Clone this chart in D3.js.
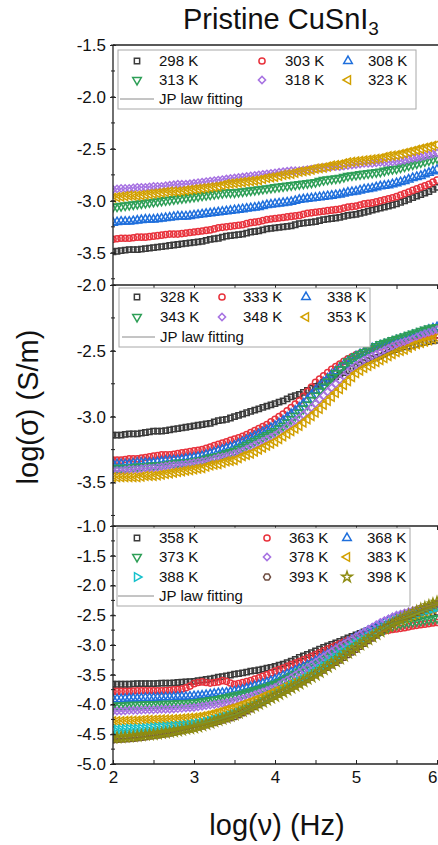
<!DOCTYPE html>
<html>
<head>
<meta charset="utf-8">
<script src="https://cdn.jsdelivr.net/npm/d3@7"></script>
<style>
  body { margin: 0; background: #fff; }
  svg { display: block; font-family: "Liberation Sans", Arial, sans-serif; }
</style>
</head>
<body>
<div id="chart"></div>
<script>
// log(frequency) grid shared by every curve
var logNu = [2.00,2.05,2.10,2.15,2.20,2.25,2.30,2.35,2.40,2.45,
             2.50,2.55,2.60,2.65,2.70,2.75,2.80,2.85,2.90,2.95,
             3.00,3.05,3.10,3.15,3.20,3.25,3.30,3.35,3.40,3.45,
             3.50,3.55,3.60,3.65,3.70,3.75,3.80,3.85,3.90,3.95,
             4.00,4.05,4.10,4.15,4.20,4.25,4.30,4.35,4.40,4.45,
             4.50,4.55,4.60,4.65,4.70,4.75,4.80,4.85,4.90,4.95,
             5.00,5.05,5.10,5.15,5.20,5.25,5.30,5.35,5.40,5.45,
             5.50,5.55,5.60,5.65,5.70,5.75,5.80,5.85,5.90,5.95,
             6.00];

// top panel, 298 - 323 K
var s298 = [-3.49,-3.485,-3.48,-3.475,-3.47,-3.47,-3.47,-3.465,-3.46,-3.455,
            -3.45,-3.445,-3.44,-3.435,-3.43,-3.425,-3.42,-3.415,-3.41,-3.405,
            -3.40,-3.395,-3.39,-3.38,-3.37,-3.365,-3.36,-3.35,-3.34,-3.335,
            -3.33,-3.325,-3.32,-3.31,-3.30,-3.295,-3.29,-3.28,-3.27,-3.265,
            -3.26,-3.255,-3.25,-3.245,-3.24,-3.23,-3.22,-3.215,-3.21,-3.205,
            -3.20,-3.19,-3.18,-3.175,-3.17,-3.165,-3.16,-3.15,-3.14,-3.135,
            -3.13,-3.12,-3.11,-3.10,-3.09,-3.08,-3.07,-3.06,-3.05,-3.04,
            -3.03,-3.015,-3.00,-2.985,-2.97,-2.955,-2.94,-2.925,-2.91,-2.89,
            -2.87];
var s303 = [-3.37,-3.365,-3.36,-3.36,-3.36,-3.355,-3.35,-3.35,-3.35,-3.345,
            -3.34,-3.335,-3.33,-3.325,-3.32,-3.32,-3.32,-3.315,-3.31,-3.305,
            -3.30,-3.295,-3.29,-3.285,-3.28,-3.27,-3.26,-3.255,-3.25,-3.245,
            -3.24,-3.235,-3.23,-3.22,-3.21,-3.205,-3.20,-3.19,-3.18,-3.175,
            -3.17,-3.165,-3.16,-3.155,-3.15,-3.145,-3.14,-3.13,-3.12,-3.115,
            -3.11,-3.105,-3.10,-3.095,-3.09,-3.085,-3.08,-3.07,-3.06,-3.055,
            -3.05,-3.04,-3.03,-3.025,-3.02,-3.01,-3.00,-2.99,-2.98,-2.97,
            -2.96,-2.945,-2.93,-2.915,-2.90,-2.885,-2.87,-2.855,-2.84,-2.82,
            -2.80];
var s308 = [-3.21,-3.205,-3.20,-3.20,-3.20,-3.195,-3.19,-3.185,-3.18,-3.18,
            -3.18,-3.175,-3.17,-3.165,-3.16,-3.155,-3.15,-3.15,-3.15,-3.145,
            -3.14,-3.135,-3.13,-3.125,-3.12,-3.115,-3.11,-3.105,-3.10,-3.095,
            -3.09,-3.085,-3.08,-3.075,-3.07,-3.065,-3.06,-3.05,-3.04,-3.035,
            -3.03,-3.025,-3.02,-3.015,-3.01,-3.00,-2.99,-2.985,-2.98,-2.975,
            -2.97,-2.965,-2.96,-2.955,-2.95,-2.945,-2.94,-2.93,-2.92,-2.915,
            -2.91,-2.90,-2.89,-2.885,-2.88,-2.87,-2.86,-2.855,-2.85,-2.84,
            -2.83,-2.82,-2.81,-2.795,-2.78,-2.77,-2.76,-2.745,-2.73,-2.715,
            -2.70];
var s313 = [-3.06,-3.055,-3.05,-3.045,-3.04,-3.035,-3.03,-3.025,-3.02,-3.015,
            -3.01,-3.005,-3.00,-2.995,-2.99,-2.985,-2.98,-2.975,-2.97,-2.965,
            -2.96,-2.955,-2.95,-2.945,-2.94,-2.935,-2.93,-2.925,-2.92,-2.92,
            -2.92,-2.915,-2.91,-2.905,-2.90,-2.895,-2.89,-2.885,-2.88,-2.875,
            -2.87,-2.865,-2.86,-2.855,-2.85,-2.845,-2.84,-2.835,-2.83,-2.825,
            -2.82,-2.81,-2.80,-2.795,-2.79,-2.785,-2.78,-2.77,-2.76,-2.755,
            -2.75,-2.745,-2.74,-2.735,-2.73,-2.725,-2.72,-2.71,-2.70,-2.695,
            -2.69,-2.68,-2.67,-2.66,-2.65,-2.64,-2.63,-2.62,-2.61,-2.60,
            -2.59];
var s318 = [-2.89,-2.885,-2.88,-2.88,-2.88,-2.875,-2.87,-2.87,-2.87,-2.865,
            -2.86,-2.86,-2.86,-2.855,-2.85,-2.845,-2.84,-2.84,-2.84,-2.835,
            -2.83,-2.825,-2.82,-2.815,-2.81,-2.805,-2.80,-2.795,-2.79,-2.785,
            -2.78,-2.775,-2.77,-2.765,-2.76,-2.755,-2.75,-2.745,-2.74,-2.735,
            -2.73,-2.725,-2.72,-2.715,-2.71,-2.71,-2.71,-2.705,-2.70,-2.695,
            -2.69,-2.685,-2.68,-2.675,-2.67,-2.67,-2.67,-2.665,-2.66,-2.655,
            -2.65,-2.645,-2.64,-2.64,-2.64,-2.635,-2.63,-2.63,-2.63,-2.625,
            -2.62,-2.615,-2.61,-2.60,-2.59,-2.585,-2.58,-2.57,-2.56,-2.55,
            -2.54];
var s323 = [-2.97,-2.965,-2.96,-2.955,-2.95,-2.95,-2.95,-2.945,-2.94,-2.935,
            -2.93,-2.925,-2.92,-2.915,-2.91,-2.91,-2.91,-2.905,-2.90,-2.895,
            -2.89,-2.885,-2.88,-2.875,-2.87,-2.865,-2.86,-2.85,-2.84,-2.835,
            -2.83,-2.825,-2.82,-2.815,-2.81,-2.805,-2.80,-2.79,-2.78,-2.775,
            -2.77,-2.76,-2.75,-2.745,-2.74,-2.73,-2.72,-2.715,-2.71,-2.70,
            -2.69,-2.685,-2.68,-2.67,-2.66,-2.655,-2.65,-2.64,-2.63,-2.625,
            -2.62,-2.615,-2.61,-2.605,-2.60,-2.595,-2.59,-2.58,-2.57,-2.565,
            -2.56,-2.55,-2.54,-2.53,-2.52,-2.51,-2.50,-2.49,-2.48,-2.47,
            -2.46];

// middle panel, 328 - 353 K
var s328 = [-3.14,-3.14,-3.14,-3.135,-3.13,-3.13,-3.13,-3.125,-3.12,-3.115,
            -3.11,-3.11,-3.11,-3.105,-3.10,-3.095,-3.09,-3.085,-3.08,-3.075,
            -3.07,-3.065,-3.06,-3.055,-3.05,-3.04,-3.03,-3.025,-3.02,-3.01,
            -3.00,-2.99,-2.98,-2.97,-2.96,-2.95,-2.94,-2.93,-2.92,-2.91,
            -2.90,-2.89,-2.88,-2.865,-2.85,-2.84,-2.83,-2.815,-2.80,-2.785,
            -2.77,-2.755,-2.74,-2.725,-2.71,-2.695,-2.68,-2.665,-2.65,-2.635,
            -2.62,-2.605,-2.59,-2.575,-2.56,-2.55,-2.54,-2.525,-2.51,-2.50,
            -2.49,-2.48,-2.47,-2.465,-2.46,-2.45,-2.44,-2.435,-2.43,-2.425,
            -2.42];
var s333 = [-3.33,-3.33,-3.33,-3.325,-3.32,-3.32,-3.32,-3.315,-3.31,-3.305,
            -3.30,-3.295,-3.29,-3.29,-3.29,-3.285,-3.28,-3.275,-3.27,-3.265,
            -3.26,-3.255,-3.25,-3.24,-3.23,-3.22,-3.21,-3.20,-3.19,-3.18,
            -3.17,-3.16,-3.15,-3.135,-3.12,-3.105,-3.09,-3.075,-3.06,-3.04,
            -3.02,-3.00,-2.98,-2.955,-2.93,-2.905,-2.88,-2.845,-2.81,-2.775,
            -2.74,-2.715,-2.69,-2.665,-2.64,-2.62,-2.60,-2.58,-2.56,-2.545,
            -2.53,-2.52,-2.51,-2.50,-2.49,-2.48,-2.47,-2.46,-2.45,-2.445,
            -2.44,-2.435,-2.43,-2.42,-2.41,-2.405,-2.40,-2.395,-2.39,-2.385,
            -2.38];
var s338 = [-3.36,-3.36,-3.36,-3.36,-3.36,-3.355,-3.35,-3.35,-3.35,-3.35,
            -3.35,-3.345,-3.34,-3.335,-3.33,-3.33,-3.33,-3.325,-3.32,-3.315,
            -3.31,-3.305,-3.30,-3.29,-3.28,-3.27,-3.26,-3.25,-3.24,-3.23,
            -3.22,-3.205,-3.19,-3.175,-3.16,-3.145,-3.13,-3.115,-3.10,-3.085,
            -3.07,-3.05,-3.03,-3.005,-2.98,-2.955,-2.93,-2.90,-2.87,-2.835,
            -2.80,-2.77,-2.74,-2.71,-2.68,-2.655,-2.63,-2.605,-2.58,-2.56,
            -2.54,-2.525,-2.51,-2.495,-2.48,-2.47,-2.46,-2.45,-2.44,-2.43,
            -2.42,-2.41,-2.40,-2.39,-2.38,-2.37,-2.36,-2.35,-2.34,-2.33,
            -2.32];
var s343 = [-3.39,-3.39,-3.39,-3.39,-3.39,-3.385,-3.38,-3.38,-3.38,-3.375,
            -3.37,-3.37,-3.37,-3.365,-3.36,-3.355,-3.35,-3.35,-3.35,-3.345,
            -3.34,-3.335,-3.33,-3.32,-3.31,-3.305,-3.30,-3.29,-3.28,-3.27,
            -3.26,-3.245,-3.23,-3.215,-3.20,-3.185,-3.17,-3.155,-3.14,-3.125,
            -3.11,-3.09,-3.07,-3.045,-3.02,-2.995,-2.97,-2.94,-2.91,-2.875,
            -2.84,-2.805,-2.77,-2.735,-2.70,-2.67,-2.64,-2.61,-2.58,-2.56,
            -2.54,-2.525,-2.51,-2.495,-2.48,-2.465,-2.45,-2.44,-2.43,-2.42,
            -2.41,-2.40,-2.39,-2.38,-2.37,-2.36,-2.35,-2.34,-2.33,-2.325,
            -2.32];
var s348 = [-3.41,-3.41,-3.41,-3.405,-3.40,-3.40,-3.40,-3.395,-3.39,-3.39,
            -3.39,-3.385,-3.38,-3.375,-3.37,-3.37,-3.37,-3.365,-3.36,-3.355,
            -3.35,-3.345,-3.34,-3.335,-3.33,-3.32,-3.31,-3.305,-3.30,-3.29,
            -3.28,-3.27,-3.26,-3.245,-3.23,-3.215,-3.20,-3.185,-3.17,-3.155,
            -3.14,-3.12,-3.10,-3.075,-3.05,-3.03,-3.01,-2.985,-2.96,-2.93,
            -2.90,-2.87,-2.84,-2.81,-2.78,-2.75,-2.72,-2.69,-2.66,-2.635,
            -2.61,-2.59,-2.57,-2.555,-2.54,-2.525,-2.51,-2.495,-2.48,-2.465,
            -2.45,-2.44,-2.43,-2.42,-2.41,-2.395,-2.38,-2.37,-2.36,-2.35,
            -2.34];
var s353 = [-3.46,-3.46,-3.46,-3.46,-3.46,-3.46,-3.46,-3.455,-3.45,-3.45,
            -3.45,-3.445,-3.44,-3.435,-3.43,-3.425,-3.42,-3.415,-3.41,-3.405,
            -3.40,-3.395,-3.39,-3.38,-3.37,-3.365,-3.36,-3.35,-3.34,-3.335,
            -3.33,-3.315,-3.30,-3.29,-3.28,-3.265,-3.25,-3.235,-3.22,-3.205,
            -3.19,-3.17,-3.15,-3.13,-3.11,-3.09,-3.07,-3.045,-3.02,-2.995,
            -2.97,-2.94,-2.91,-2.88,-2.85,-2.82,-2.79,-2.76,-2.73,-2.70,
            -2.67,-2.65,-2.63,-2.615,-2.60,-2.585,-2.57,-2.555,-2.54,-2.525,
            -2.51,-2.50,-2.49,-2.475,-2.46,-2.45,-2.44,-2.43,-2.42,-2.41,
            -2.40];

// bottom panel, 358 - 398 K
var s358 = [-3.66,-3.66,-3.66,-3.66,-3.66,-3.655,-3.65,-3.65,-3.65,-3.65,
            -3.65,-3.645,-3.64,-3.64,-3.64,-3.635,-3.63,-3.625,-3.62,-3.615,
            -3.61,-3.60,-3.59,-3.58,-3.57,-3.555,-3.54,-3.53,-3.52,-3.505,
            -3.49,-3.48,-3.47,-3.455,-3.44,-3.43,-3.42,-3.405,-3.39,-3.375,
            -3.36,-3.34,-3.32,-3.295,-3.27,-3.24,-3.21,-3.185,-3.16,-3.13,
            -3.10,-3.07,-3.04,-3.015,-2.99,-2.965,-2.94,-2.91,-2.88,-2.855,
            -2.83,-2.805,-2.78,-2.755,-2.73,-2.705,-2.68,-2.66,-2.64,-2.62,
            -2.60,-2.585,-2.57,-2.555,-2.54,-2.525,-2.51,-2.495,-2.48,-2.465,
            -2.45];
var s363 = [-3.78,-3.78,-3.78,-3.78,-3.78,-3.775,-3.77,-3.77,-3.77,-3.77,
            -3.77,-3.77,-3.77,-3.765,-3.76,-3.755,-3.75,-3.74,-3.72,-3.69,
            -3.65,-3.63,-3.62,-3.63,-3.64,-3.63,-3.62,-3.60,-3.61,-3.64,
            -3.66,-3.65,-3.63,-3.615,-3.60,-3.575,-3.55,-3.525,-3.50,-3.47,
            -3.44,-3.415,-3.39,-3.36,-3.33,-3.305,-3.28,-3.25,-3.22,-3.19,
            -3.16,-3.13,-3.10,-3.07,-3.04,-3.01,-2.98,-2.95,-2.92,-2.895,
            -2.87,-2.85,-2.83,-2.815,-2.80,-2.79,-2.78,-2.765,-2.75,-2.74,
            -2.73,-2.72,-2.71,-2.695,-2.68,-2.67,-2.66,-2.65,-2.64,-2.63,
            -2.62];
var s368 = [-3.91,-3.91,-3.91,-3.905,-3.90,-3.90,-3.90,-3.895,-3.89,-3.89,
            -3.89,-3.885,-3.88,-3.88,-3.88,-3.875,-3.87,-3.87,-3.87,-3.865,
            -3.86,-3.855,-3.85,-3.84,-3.83,-3.82,-3.81,-3.805,-3.80,-3.79,
            -3.78,-3.765,-3.75,-3.73,-3.71,-3.69,-3.67,-3.65,-3.63,-3.605,
            -3.58,-3.55,-3.52,-3.49,-3.46,-3.43,-3.40,-3.37,-3.34,-3.305,
            -3.27,-3.23,-3.19,-3.15,-3.11,-3.07,-3.03,-2.99,-2.95,-2.91,
            -2.87,-2.835,-2.80,-2.765,-2.73,-2.695,-2.66,-2.625,-2.59,-2.56,
            -2.53,-2.515,-2.50,-2.48,-2.46,-2.445,-2.43,-2.415,-2.40,-2.385,
            -2.37];
var s373 = [-4.02,-4.02,-4.02,-4.015,-4.01,-4.01,-4.01,-4.005,-4.00,-4.00,
            -4.00,-3.995,-3.99,-3.99,-3.99,-3.985,-3.98,-3.98,-3.98,-3.975,
            -3.97,-3.96,-3.95,-3.94,-3.93,-3.92,-3.91,-3.895,-3.88,-3.865,
            -3.85,-3.835,-3.82,-3.80,-3.78,-3.76,-3.74,-3.72,-3.70,-3.675,
            -3.65,-3.62,-3.59,-3.555,-3.52,-3.485,-3.45,-3.415,-3.38,-3.345,
            -3.31,-3.275,-3.24,-3.205,-3.17,-3.13,-3.09,-3.055,-3.02,-2.985,
            -2.95,-2.915,-2.88,-2.85,-2.82,-2.79,-2.76,-2.73,-2.70,-2.68,
            -2.66,-2.645,-2.63,-2.62,-2.61,-2.60,-2.59,-2.58,-2.57,-2.56,
            -2.55];
var s378 = [-4.11,-4.11,-4.11,-4.105,-4.10,-4.10,-4.10,-4.095,-4.09,-4.09,
            -4.09,-4.085,-4.08,-4.08,-4.08,-4.075,-4.07,-4.065,-4.06,-4.055,
            -4.05,-4.04,-4.03,-4.02,-4.01,-4.00,-3.99,-3.98,-3.97,-3.955,
            -3.94,-3.92,-3.90,-3.88,-3.86,-3.835,-3.81,-3.785,-3.76,-3.735,
            -3.71,-3.67,-3.63,-3.59,-3.55,-3.505,-3.46,-3.42,-3.38,-3.335,
            -3.29,-3.245,-3.20,-3.155,-3.11,-3.065,-3.02,-2.98,-2.94,-2.90,
            -2.86,-2.82,-2.78,-2.74,-2.70,-2.66,-2.62,-2.59,-2.56,-2.53,
            -2.50,-2.48,-2.46,-2.44,-2.42,-2.40,-2.38,-2.36,-2.34,-2.325,
            -2.31];
var s383 = [-4.28,-4.28,-4.28,-4.275,-4.27,-4.27,-4.27,-4.265,-4.26,-4.26,
            -4.26,-4.255,-4.25,-4.25,-4.25,-4.245,-4.24,-4.235,-4.23,-4.225,
            -4.22,-4.21,-4.20,-4.185,-4.17,-4.15,-4.13,-4.11,-4.09,-4.07,
            -4.05,-4.025,-4.00,-3.975,-3.95,-3.925,-3.90,-3.87,-3.84,-3.81,
            -3.78,-3.75,-3.72,-3.685,-3.65,-3.62,-3.59,-3.555,-3.52,-3.485,
            -3.45,-3.41,-3.37,-3.325,-3.28,-3.24,-3.20,-3.155,-3.11,-3.07,
            -3.03,-2.985,-2.94,-2.895,-2.85,-2.805,-2.76,-2.72,-2.68,-2.64,
            -2.60,-2.575,-2.55,-2.525,-2.50,-2.475,-2.45,-2.43,-2.41,-2.39,
            -2.37];
var s388 = [-4.42,-4.42,-4.42,-4.415,-4.41,-4.41,-4.41,-4.405,-4.40,-4.395,
            -4.39,-4.385,-4.38,-4.375,-4.37,-4.365,-4.36,-4.355,-4.35,-4.34,
            -4.33,-4.32,-4.31,-4.295,-4.28,-4.265,-4.25,-4.23,-4.21,-4.19,
            -4.17,-4.145,-4.12,-4.09,-4.06,-4.03,-4.00,-3.965,-3.93,-3.895,
            -3.86,-3.82,-3.78,-3.74,-3.70,-3.66,-3.62,-3.58,-3.54,-3.495,
            -3.45,-3.405,-3.36,-3.31,-3.26,-3.215,-3.17,-3.125,-3.08,-3.035,
            -2.99,-2.95,-2.91,-2.87,-2.83,-2.79,-2.75,-2.71,-2.67,-2.635,
            -2.60,-2.575,-2.55,-2.525,-2.50,-2.475,-2.45,-2.43,-2.41,-2.39,
            -2.37];
var s393 = [-4.59,-4.585,-4.58,-4.575,-4.57,-4.565,-4.56,-4.55,-4.54,-4.53,
            -4.52,-4.51,-4.50,-4.49,-4.48,-4.465,-4.45,-4.435,-4.42,-4.405,
            -4.39,-4.375,-4.36,-4.34,-4.32,-4.30,-4.28,-4.26,-4.24,-4.22,
            -4.20,-4.17,-4.14,-4.105,-4.07,-4.035,-4.00,-3.965,-3.93,-3.895,
            -3.86,-3.825,-3.79,-3.755,-3.72,-3.685,-3.65,-3.615,-3.58,-3.54,
            -3.50,-3.46,-3.42,-3.375,-3.33,-3.29,-3.25,-3.205,-3.16,-3.115,
            -3.07,-3.02,-2.97,-2.925,-2.88,-2.83,-2.78,-2.735,-2.69,-2.645,
            -2.60,-2.57,-2.54,-2.51,-2.48,-2.45,-2.42,-2.39,-2.36,-2.335,
            -2.31];
var s398 = [-4.56,-4.555,-4.55,-4.545,-4.54,-4.535,-4.53,-4.52,-4.51,-4.505,
            -4.50,-4.49,-4.48,-4.47,-4.46,-4.45,-4.44,-4.425,-4.41,-4.40,
            -4.39,-4.37,-4.35,-4.33,-4.31,-4.285,-4.26,-4.24,-4.22,-4.195,
            -4.17,-4.14,-4.11,-4.08,-4.05,-4.02,-3.99,-3.955,-3.92,-3.89,
            -3.86,-3.825,-3.79,-3.755,-3.72,-3.685,-3.65,-3.61,-3.57,-3.535,
            -3.50,-3.455,-3.41,-3.365,-3.32,-3.275,-3.23,-3.18,-3.13,-3.085,
            -3.04,-2.995,-2.95,-2.905,-2.86,-2.815,-2.77,-2.725,-2.68,-2.64,
            -2.60,-2.565,-2.53,-2.50,-2.47,-2.435,-2.40,-2.37,-2.34,-2.31,
            -2.28];

var xTickLabels = [2, 3, 4, 5, 6];
var titleText = "Pristine CuSnI";
var fitLabel = "JP law fitting";

var width = 438, height = 845;
var left = 113;

// colour + marker per temperature (same order in every panel)
var colBlack = "#3b3b3b", colRed = "#e8333d", colBlue = "#1f6fdc", colGreen = "#2e9f57",
    colPurple = "#a772e2", colGold = "#d2a000", colCyan = "#16c1cc", colBrown = "#6e4c40", colOlive = "#8e8c12";

var panels = [
  { top: 45, bottom: 285, domain: [-3.81, -1.5], ticks: [-3.5, -3.0, -2.5, -2.0, -1.5], topTicks: false,
    series: [
      { label: "298 K", v: s298, c: colBlack, m: "square" },
      { label: "303 K", v: s303, c: colRed, m: "circle" },
      { label: "308 K", v: s308, c: colBlue, m: "up" },
      { label: "313 K", v: s313, c: colGreen, m: "down" },
      { label: "318 K", v: s318, c: colPurple, m: "diamond" },
      { label: "323 K", v: s323, c: colGold, m: "left" }
    ],
    legend: { x: 118, y: 50, w: 298, h: 59, rows: [61, 80, 99], sym: [137, 262, 348], txt: [159, 285, 368], line: [120, 154] } },
  { top: 285, bottom: 526, domain: [-3.83, -2.0], ticks: [-3.5, -3.0, -2.5, -2.0], topTicks: true,
    series: [
      { label: "328 K", v: s328, c: colBlack, m: "square" },
      { label: "333 K", v: s333, c: colRed, m: "circle" },
      { label: "338 K", v: s338, c: colBlue, m: "up" },
      { label: "343 K", v: s343, c: colGreen, m: "down" },
      { label: "348 K", v: s348, c: colPurple, m: "diamond" },
      { label: "353 K", v: s353, c: colGold, m: "left" }
    ],
    legend: { x: 119, y: 288, w: 251, h: 59, rows: [297, 317, 337], sym: [137, 222, 306], txt: [160, 243, 327], line: [122, 155] } },
  { top: 526, bottom: 764, domain: [-5.0, -1.0], ticks: [-5.0, -4.5, -4.0, -3.5, -3.0, -2.5, -2.0, -1.5, -1.0], topTicks: true,
    series: [
      { label: "358 K", v: s358, c: colBlack, m: "square" },
      { label: "363 K", v: s363, c: colRed, m: "circle" },
      { label: "368 K", v: s368, c: colBlue, m: "up" },
      { label: "373 K", v: s373, c: colGreen, m: "down" },
      { label: "378 K", v: s378, c: colPurple, m: "diamond" },
      { label: "383 K", v: s383, c: colGold, m: "left" },
      { label: "388 K", v: s388, c: colCyan, m: "right" },
      { label: "393 K", v: s393, c: colBrown, m: "hex" },
      { label: "398 K", v: s398, c: colOlive, m: "star" }
    ],
    legend: { x: 117, y: 528, w: 293, h: 78, rows: [538, 557, 577, 596], sym: [137, 267, 347], txt: [159, 289, 367], line: [118, 154] } }
];

var x = d3.scaleLinear().domain([2, 6]).range([left, 437]);

var hexType = {
  draw: function(ctx, size) {
    var r = Math.sqrt(size / 2.6);
    for (var i = 0; i < 6; i++) {
      var a = Math.PI / 3 * i;
      if (i == 0) ctx.moveTo(r * Math.cos(a), r * Math.sin(a));
      else ctx.lineTo(r * Math.cos(a), r * Math.sin(a));
    }
    ctx.closePath();
  }
};

function markerPath(m) {
  if (m == "square") return { d: d3.symbol(d3.symbolSquare, 28)(), rot: 0 };
  if (m == "circle") return { d: d3.symbol(d3.symbolCircle, 30)(), rot: 0 };
  if (m == "up") return { d: d3.symbol(d3.symbolTriangle, 32)(), rot: 0 };
  if (m == "down") return { d: d3.symbol(d3.symbolTriangle, 32)(), rot: 180 };
  if (m == "left") return { d: d3.symbol(d3.symbolTriangle, 32)(), rot: -90 };
  if (m == "right") return { d: d3.symbol(d3.symbolTriangle, 32)(), rot: 90 };
  if (m == "diamond") return { d: d3.symbol(d3.symbolSquare, 26)(), rot: 45 };
  if (m == "hex") return { d: d3.symbol(hexType, 32)(), rot: 0 };
  return { d: d3.symbol(d3.symbolStar, 34)(), rot: 0 };
}

var svg = d3.select("#chart").append("svg")
  .attr("width", width).attr("height", height);

panels.forEach(function(p, pi) {
  var y = d3.scaleLinear().domain(p.domain).range([p.bottom, p.top]);
  var clipId = "clip" + pi;
  svg.append("clipPath").attr("id", clipId)
    .append("rect").attr("x", left).attr("y", p.top).attr("width", width - left).attr("height", p.bottom - p.top);

  var plot = svg.append("g").attr("clip-path", "url(#" + clipId + ")");

  // data markers
  p.series.forEach(function(s) {
    var mk = markerPath(s.m);
    plot.append("g").selectAll("path")
      .data(logNu.map(function(d, i) { return [d, s.v[i]]; }))
      .enter().append("path")
      .attr("d", mk.d)
      .attr("transform", function(d) { return "translate(" + x(d[0]) + "," + y(d[1]) + ") rotate(" + mk.rot + ")"; })
      .attr("fill", "none")
      .attr("stroke", s.c)
      .attr("stroke-width", 1.5);
  });

  // JP law fitting lines (thin, mostly hidden by the markers)
  var line = d3.line().curve(d3.curveMonotoneX).x(function(d) { return x(d[0]); }).y(function(d) { return y(d[1]); });
  p.series.forEach(function(s) {
    plot.append("path")
      .datum(logNu.map(function(d, i) { return [d, s.v[i]]; }))
      .attr("d", line)
      .attr("fill", "none")
      .attr("stroke", s.c)
      .attr("stroke-opacity", 0.4)
      .attr("stroke-width", 0.6);
  });

  // frame: top line
  svg.append("line").attr("x1", left).attr("x2", width).attr("y1", p.top).attr("y2", p.top)
    .attr("stroke", "#222").attr("stroke-width", 1.3);

  // left axis
  var minor = d3.range(Math.ceil(p.domain[0] * 4) / 4, p.domain[1] + 0.001, 0.25);
  var yAxis = d3.axisLeft(y).tickValues(p.ticks).tickSize(4).tickPadding(3)
    .tickFormat(d3.format(".1f"));
  var ga = svg.append("g").attr("transform", "translate(" + left + ",0)").call(yAxis);
  ga.select(".domain").remove();
  ga.selectAll(".tick text").attr("font-size", 17).attr("fill", "#111")
    .text(function(d) { return d3.format(".1f")(d).replace("\u2212", "-"); });
  ga.selectAll(".tick line").attr("stroke", "#222").attr("x2", 3).attr("x1", -3);
  svg.append("g").selectAll("line").data(minor).enter().append("line")
    .attr("x1", left - 2).attr("x2", left + 2)
    .attr("y1", function(d) { return y(d); }).attr("y2", function(d) { return y(d); })
    .attr("stroke", "#222").attr("stroke-width", 1);
  svg.append("line").attr("x1", left).attr("x2", left).attr("y1", p.top).attr("y2", p.bottom)
    .attr("stroke", "#222").attr("stroke-width", 1.3);

  // inward x ticks along top edge of lower panels
  if (p.topTicks) {
    var xt = d3.axisBottom(x).tickValues([2.5, 3, 3.5, 4, 4.5, 5, 5.5, 6]).tickSize(4).tickFormat("");
    var gx = svg.append("g").attr("transform", "translate(0," + p.top + ")").call(xt);
    gx.select(".domain").remove();
    gx.selectAll(".tick line").attr("stroke", "#222");
  }

  // legend
  var L = p.legend;
  var lg = svg.append("g");
  lg.append("rect").attr("x", L.x).attr("y", L.y).attr("width", L.w).attr("height", L.h)
    .attr("fill", "#fff").attr("stroke", "#a8a8a8").attr("stroke-width", 1);
  p.series.forEach(function(s, i) {
    var r = Math.floor(i / 3), c = i % 3;
    var mk = markerPath(s.m);
    lg.append("path").attr("d", mk.d)
      .attr("transform", "translate(" + L.sym[c] + "," + L.rows[r] + ") rotate(" + mk.rot + ")")
      .attr("fill", "none").attr("stroke", s.c).attr("stroke-width", 1.5);
    lg.append("text").attr("x", L.txt[c]).attr("y", L.rows[r]).attr("dy", "0.35em")
      .attr("font-size", 15).attr("fill", "#111").text(s.label);
  });
  var lr = L.rows[L.rows.length - 1];
  lg.append("line").attr("x1", L.line[0]).attr("x2", L.line[1]).attr("y1", lr).attr("y2", lr)
    .attr("stroke", "#8a8a8a").attr("stroke-width", 1);
  lg.append("text").attr("x", L.txt[0]).attr("y", lr).attr("dy", "0.35em")
    .attr("font-size", 15).attr("fill", "#111").text(fitLabel);

  // bottom axis with labels on last panel
  if (pi == panels.length - 1) {
    var xb = d3.axisBottom(x).tickValues(xTickLabels).tickSize(0).tickPadding(7).tickFormat(d3.format("d"));
    var gb = svg.append("g").attr("transform", "translate(0," + p.bottom + ")").call(xb);
    gb.select(".domain").remove();
    gb.selectAll(".tick text").attr("font-size", 17).attr("fill", "#111")
      .attr("text-anchor", function(d) { return d == 6 ? "end" : "middle"; });
    var inward = svg.append("g").attr("transform", "translate(0," + p.bottom + ")")
      .call(d3.axisTop(x).tickValues([2, 2.5, 3, 3.5, 4, 4.5, 5, 5.5, 6]).tickSize(4).tickFormat(""));
    inward.select(".domain").remove();
    inward.selectAll(".tick line").attr("stroke", "#222");
    svg.append("line").attr("x1", left).attr("x2", width).attr("y1", p.bottom).attr("y2", p.bottom)
      .attr("stroke", "#222").attr("stroke-width", 1.3);
  }
});

// titles
var t = svg.append("text").attr("x", 183).attr("y", 29).attr("font-size", 29).attr("fill", "#111").text(titleText);
t.append("tspan").attr("font-size", 19).attr("dy", 6).text("3");

svg.append("text").attr("x", 277).attr("y", 835).attr("text-anchor", "middle")
  .attr("font-size", 29).attr("fill", "#111").text("log(\u03bd) (Hz)");

svg.append("text").attr("transform", "translate(38,407) rotate(-90)").attr("text-anchor", "middle")
  .attr("font-size", 29).attr("fill", "#111").text("log(\u03c3) (S/m)");
</script>
</body>
</html>
